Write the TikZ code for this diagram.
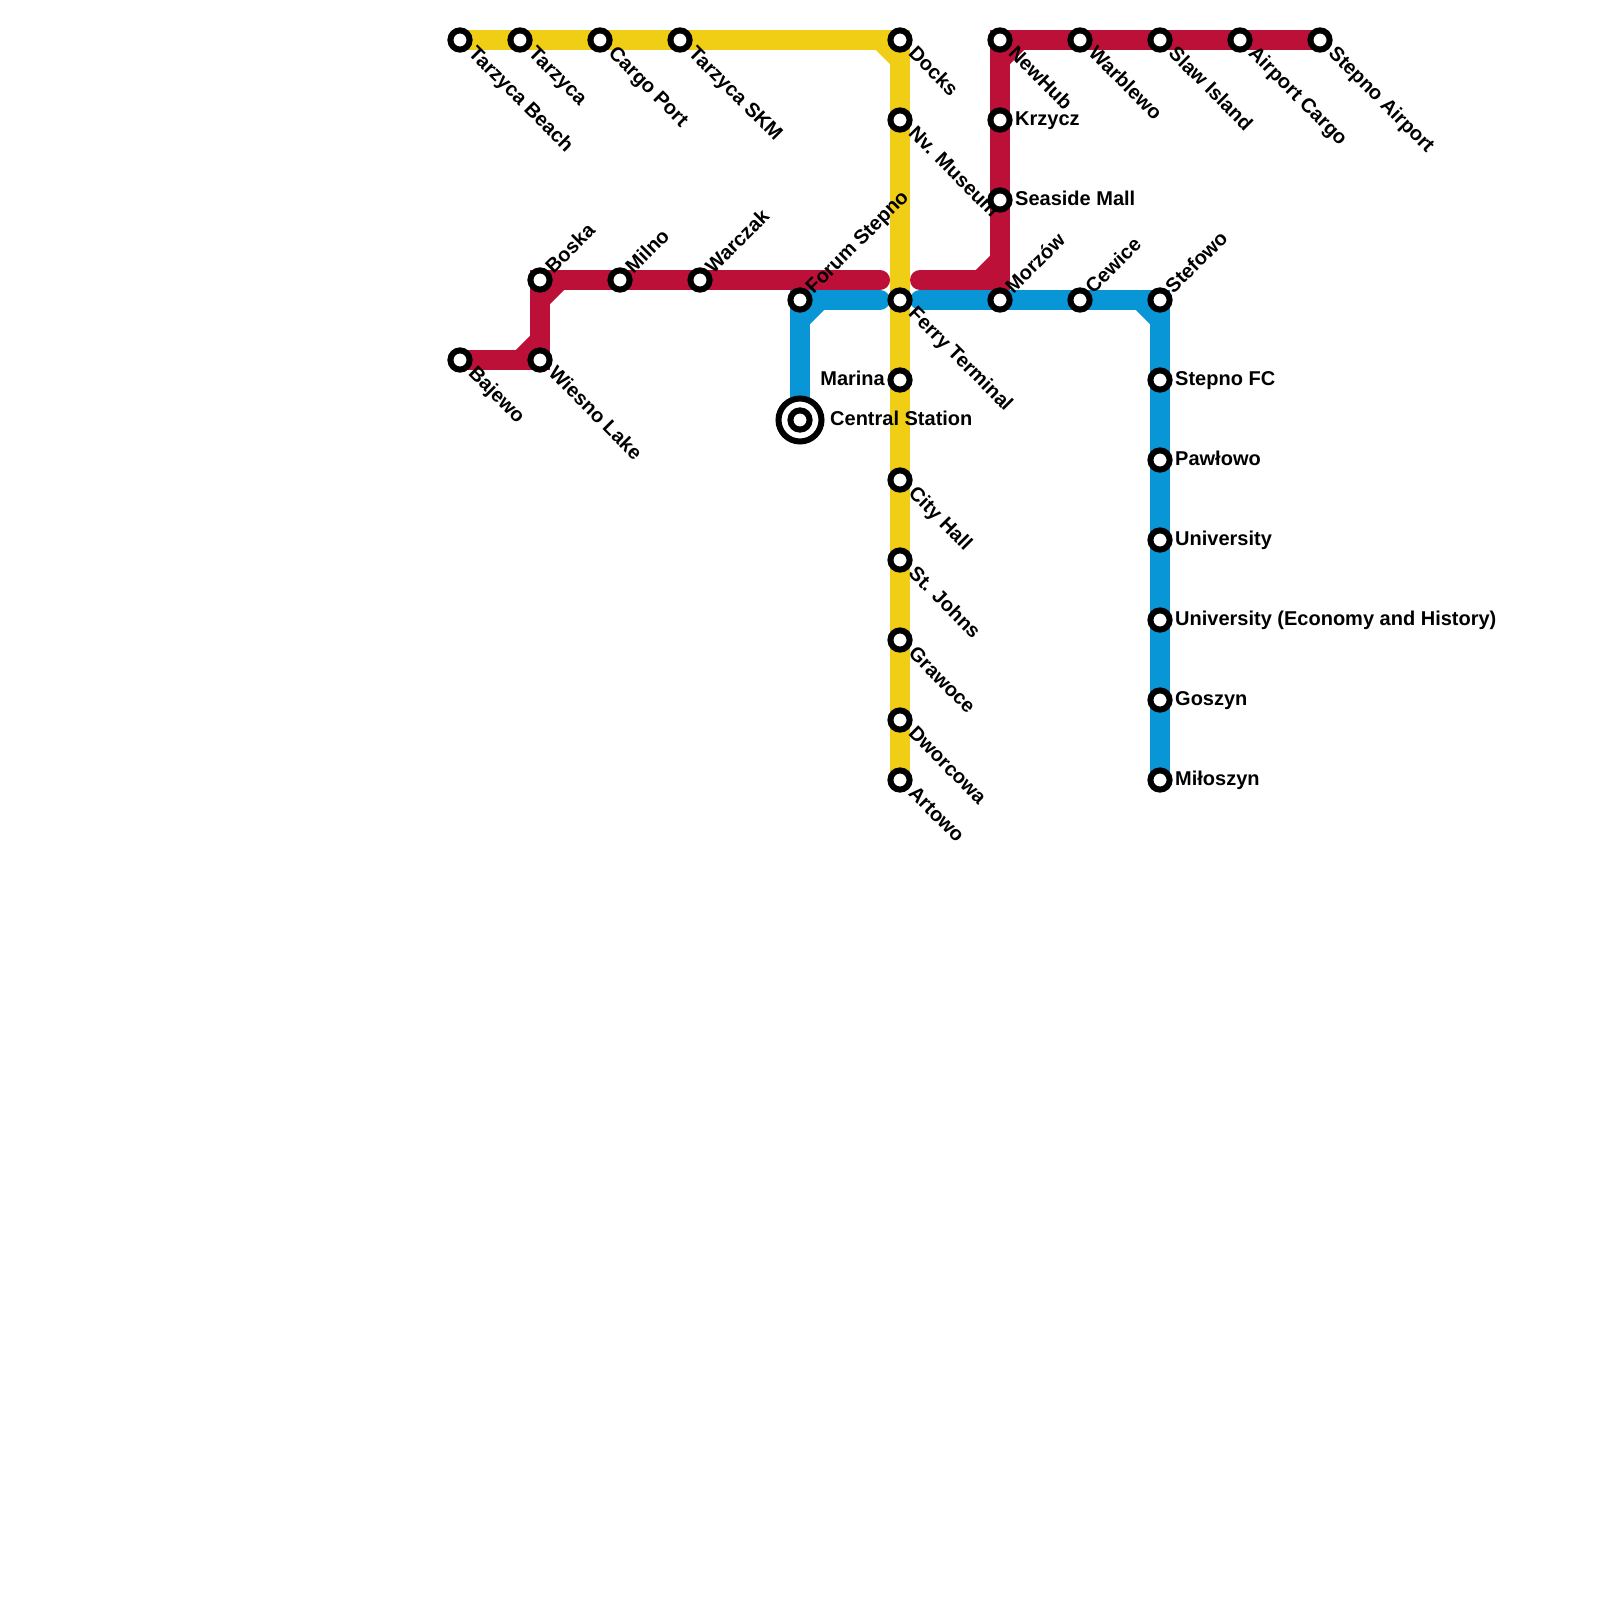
\documentclass[tikz,border=0pt]{standalone}
\usepackage{fontspec}
\setmainfont{Liberation Sans}
\usetikzlibrary{backgrounds}
\definecolor{lineyellow}{HTML}{F0CE15}
\definecolor{linered}{HTML}{BD1038}
\definecolor{lineblue}{HTML}{0896D7}
\begin{document}
\begin{tikzpicture}[
  x=1pt, y=-1pt,
  font=\fontsize{20}{24}\selectfont\bfseries,
  stop/.style={draw=black, circle, line width=6pt, fill=white, inner sep=0pt, outer sep=0pt, minimum size=19.2pt},
  hub/.style={draw=black, circle, line width=6pt, fill=white, inner sep=0pt, outer sep=0pt, minimum size=43pt},
  lbl/.style={inner sep=0pt, text height=14pt, text depth=4pt},
  lblse/.style={lbl, anchor=west, xshift=11pt, yshift=-11pt, rotate=-45},
  lblne/.style={lbl, anchor=west, xshift=10pt, yshift=9pt, rotate=45},
  lble/.style={lbl, anchor=west, xshift=15pt},
  lblw/.style={lbl, anchor=east, xshift=-15pt},
  route/.style={line width=20pt, line cap=round, miter limit=10},
  diag/.style={line width=20pt, line cap=butt}
]
\useasboundingbox (0,0) rectangle (1600,1600);
% yellow
\node[stop] (tarzycaBeach) at (460,40) {};
\node[stop] (tarzyca) at (520,40) {};
\node[stop] (cargoPort) at (600,40) {};
\node[stop] (tarzycaSkm) at (680,40) {};
\node[stop] (docks) at (900,40) {};
\node[stop] (nvMuseum) at (900,120) {};
\node[stop] (ferry) at (900,300) {};
\node[stop] (marina) at (900,380) {};
\node[stop] (cityHall) at (900,480) {};
\node[stop] (stJohns) at (900,560) {};
\node[stop] (grawoce) at (900,640) {};
\node[stop] (dworcowa) at (900,720) {};
\node[stop] (artowo) at (900,780) {};
% red
\node[stop] (bajewo) at (460,360) {};
\node[stop] (wiesno) at (540,360) {};
\node[stop] (boska) at (540,280) {};
\node[stop] (milno) at (620,280) {};
\node[stop] (warczak) at (700,280) {};
\node[stop] (seaside) at (1000,200) {};
\node[stop] (krzycz) at (1000,120) {};
\node[stop] (newHub) at (1000,40) {};
\node[stop] (warblewo) at (1080,40) {};
\node[stop] (slaw) at (1160,40) {};
\node[stop] (airportCargo) at (1240,40) {};
\node[stop] (stepnoAirport) at (1320,40) {};
% blue
\node[hub] (centralRing) at (800,420) {};
\node[stop] (central) at (800,420) {};
\node[stop] (forum) at (800,300) {};
\node[stop] (morzow) at (1000,300) {};
\node[stop] (cewice) at (1080,300) {};
\node[stop] (stefowo) at (1160,300) {};
\node[stop] (stepnoFc) at (1160,380) {};
\node[stop] (pawlowo) at (1160,460) {};
\node[stop] (university) at (1160,540) {};
\node[stop] (universityEh) at (1160,620) {};
\node[stop] (goszyn) at (1160,700) {};
\node[stop] (miloszyn) at (1160,780) {};
% bends and line ends
\coordinate (yBendA) at (880,40);
\coordinate (yBendB) at (900,60);
\coordinate (rEndL) at (880,280);
\coordinate (rEndR) at (920,280);
\coordinate (rBendA) at (520,360);
\coordinate (rBendB) at (540,340);
\coordinate (rBendC) at (540,300);
\coordinate (rBendD) at (560,280);
\coordinate (rBendE) at (980,280);
\coordinate (rBendF) at (1000,260);
\coordinate (rCorner) at (1000,280);
\coordinate (rBendG) at (1000,60);
\coordinate (rBendH) at (1020,40);
\coordinate (bEndL) at (880,300);
\coordinate (bEndR) at (920,300);
\coordinate (bBendA) at (800,320);
\coordinate (bBendB) at (820,300);
\coordinate (bBendC) at (1140,300);
\coordinate (bBendD) at (1160,320);
\begin{scope}[on background layer]
\draw[route, lineblue] (central.center)--(forum.center)--(bEndL);
\draw[diag, lineblue] (bBendA)--(bBendB);
\draw[route, lineblue] (bEndR)--(morzow.center)--(cewice.center)--(stefowo.center)--(miloszyn.center);
\draw[diag, lineblue] (bBendC)--(bBendD);
\draw[route, linered] (bajewo.center)--(wiesno.center)--(boska.center)--(rEndL);
\draw[diag, linered] (rBendA)--(rBendB);
\draw[diag, linered] (rBendC)--(rBendD);
\draw[route, linered] (rEndR)--(rCorner)--(newHub.center)--(stepnoAirport.center);
\draw[diag, linered] (rBendE)--(rBendF);
\draw[diag, linered] (rBendG)--(rBendH);
\draw[route, lineyellow] (tarzycaBeach.center)--(docks.center)--(artowo.center);
\draw[diag, lineyellow] (yBendA)--(yBendB);
\end{scope}
\node[lblse] (tarzycaBeachL) at (tarzycaBeach) {Tarzyca Beach};
\node[lblse] (tarzycaL) at (tarzyca) {Tarzyca};
\node[lblse] (cargoPortL) at (cargoPort) {Cargo Port};
\node[lblse] (tarzycaSkmL) at (tarzycaSkm) {Tarzyca SKM};
\node[lblse] (docksL) at (docks) {Docks};
\node[lblse] (nvMuseumL) at (nvMuseum) {Nv. Museum};
\node[lblse] (ferryL) at (ferry) {Ferry Terminal};
\node[lblw] (marinaL) at (marina) {Marina};
\node[lblse] (cityHallL) at (cityHall) {City Hall};
\node[lblse] (stJohnsL) at (stJohns) {St. Johns};
\node[lblse] (grawoceL) at (grawoce) {Grawoce};
\node[lblse] (dworcowaL) at (dworcowa) {Dworcowa};
\node[lblse] (artowoL) at (artowo) {Artowo};
\node[lblse] (bajewoL) at (bajewo) {Bajewo};
\node[lblse] (wiesnoL) at (wiesno) {Wiesno Lake};
\node[lblne] (boskaL) at (boska) {Boska};
\node[lblne] (milnoL) at (milno) {Milno};
\node[lblne] (warczakL) at (warczak) {Warczak};
\node[lble] (seasideL) at (seaside) {Seaside Mall};
\node[lble] (krzyczL) at (krzycz) {Krzycz};
\node[lblse] (newHubL) at (newHub) {NewHub};
\node[lblse] (warblewoL) at (warblewo) {Warblewo};
\node[lblse] (slawL) at (slaw) {Slaw Island};
\node[lblse] (airportCargoL) at (airportCargo) {Airport Cargo};
\node[lblse] (stepnoAirportL) at (stepnoAirport) {Stepno Airport};
\node[lbl, anchor=west, xshift=30pt] (centralL) at (central) {Central Station};
\node[lblne] (forumL) at (forum) {Forum Stepno};
\node[lblne] (morzowL) at (morzow) {Morzów};
\node[lblne] (cewiceL) at (cewice) {Cewice};
\node[lblne] (stefowoL) at (stefowo) {Stefowo};
\node[lble] (stepnoFcL) at (stepnoFc) {Stepno FC};
\node[lble] (pawlowoL) at (pawlowo) {Pawłowo};
\node[lble] (universityL) at (university) {University};
\node[lble] (universityEhL) at (universityEh) {University (Economy and History)};
\node[lble] (goszynL) at (goszyn) {Goszyn};
\node[lble] (miloszynL) at (miloszyn) {Miłoszyn};
\end{tikzpicture}
\end{document}
